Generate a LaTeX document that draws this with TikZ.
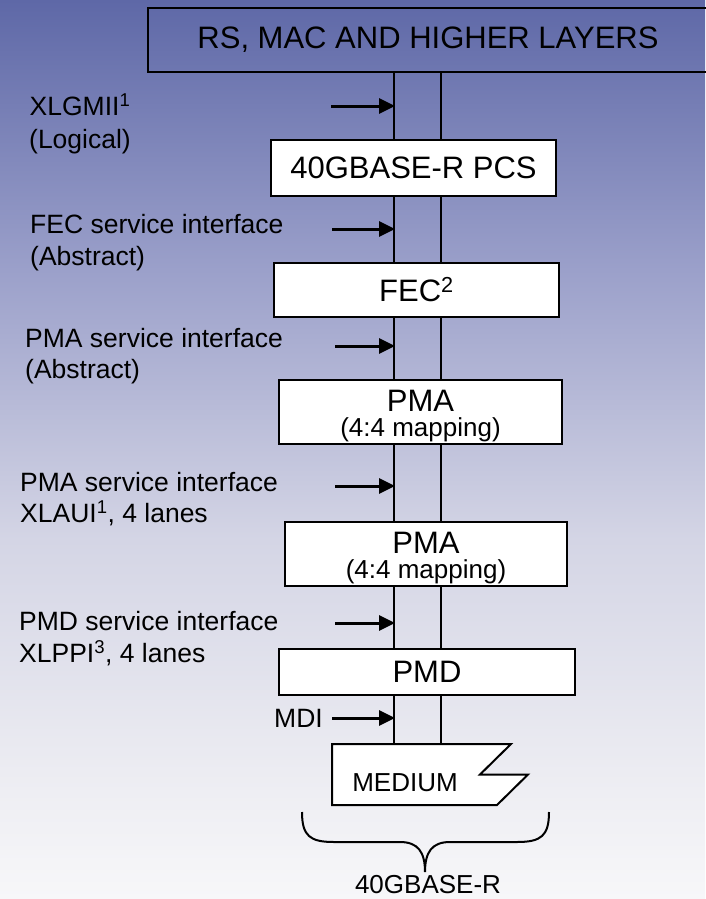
\documentclass[tikz,border=0pt]{standalone}
\usepackage{fontspec}
\setmainfont{Liberation Sans}
\usetikzlibrary{arrows.meta}
\definecolor{bgtop}{RGB}{94,104,167}
\definecolor{bgmid}{RGB}{155,160,202}
\definecolor{bglow}{RGB}{212,213,229}
\definecolor{bgfoot}{RGB}{238,238,243}
\definecolor{bgbot}{RGB}{247,247,249}
\pgfdeclareverticalshading{bgshade}{100bp}{color(0bp)=(bgbot); color(25bp)=(bgbot); color(31bp)=(bgfoot); color(45bp)=(bglow); color(60bp)=(bgmid); color(75bp)=(bgtop); color(100bp)=(bgtop)}
\tikzset{
  layerbox/.style={draw=black, fill=white, line width=2pt, inner sep=0pt, align=center},
  bigtext/.style={font=\fontsize{31}{31}\selectfont},
  maptext/.style={inner sep=0pt, font=\fontsize{26}{26}\selectfont},
  lbl/.style={inner sep=0pt, align=left, anchor=west, font=\fontsize{26.5}{31.5}\selectfont},
  iface/.style={line width=3pt, -{Triangle[length=16pt,width=15pt]}},
  wire/.style={line width=2pt},
}
\begin{document}
\begin{tikzpicture}[x=1pt,y=-1pt]
\useasboundingbox (0,0) rectangle (705,899);
\shade[shading=bgshade] (0,0) rectangle (705,899);
% vertical pair of lines
\coordinate (la) at (394,72);
\coordinate (lb) at (441,72);
\coordinate (ma) at (394,744);
\coordinate (mb) at (441,744);
\draw[wire] (la) -- (ma);
\draw[wire] (lb) -- (mb);
% boxes
\node[draw=black, line width=2pt, inner sep=0pt, minimum width=560pt, minimum height=64pt, bigtext] (top) at (428,40) {RS, MAC AND HIGHER LAYERS};
\node[layerbox, minimum width=285pt, minimum height=56pt, bigtext] (pcs) at (413.5,168) {40GBASE-R PCS};
\node[layerbox, minimum width=285pt, minimum height=54pt, bigtext] (fec) at (416.5,290) {FEC\textsuperscript{2}};
\node[layerbox, minimum width=283pt, minimum height=64pt] (pmaa) at (420.5,412) {};
\node[bigtext, inner sep=0pt] (pmaat) at (420.5,401) {PMA};
\node[maptext] (pmaam) at (420.5,430) {(4:4 mapping)};
\node[layerbox, minimum width=282pt, minimum height=64pt] (pmab) at (426,554) {};
\node[bigtext, inner sep=0pt] (pmabt) at (426,543) {PMA};
\node[maptext] (pmabm) at (426,572) {(4:4 mapping)};
\node[layerbox, minimum width=296pt, minimum height=46pt, bigtext] (pmd) at (427,672) {PMD};
% medium
\draw[line width=2pt, fill=white] (332,744) -- (511,744) -- (480,774.5) -- (528,774.5) -- (497,805) -- (332,805) -- cycle;
\node[inner sep=0pt, font=\fontsize{26}{26}\selectfont] (medium) at (405,783) {MEDIUM};
% brace
\draw[line width=2pt] (302,812) .. controls (302,836) and (310,842) .. (334,842) -- (400,842) .. controls (418,842) and (425,852) .. (425,872)
  .. controls (425,852) and (432,842) .. (450,842) -- (517,842) .. controls (541,842) and (549,836) .. (549,812);
\node[inner sep=0pt, font=\fontsize{26}{26}\selectfont] (base) at (428,885) {40GBASE-R};
% labels
\node[inner sep=0pt, align=center, font=\fontsize{26.5}{33}\selectfont] (xlgmii) at (80,124) {XLGMII\textsuperscript{1}\\(Logical)};
\node[lbl] (fecsi) at (30,242.5) {FEC service interface\\(Abstract)};
\node[lbl] (pmasi) at (25,356) {PMA service interface\\(Abstract)};
\node[lbl] (pmasi2) at (20,499) {PMA service interface\\XLAUI\textsuperscript{1}, 4 lanes};
\node[lbl] (pmdsi) at (19,638.5) {PMD service interface\\XLPPI\textsuperscript{3}, 4 lanes};
\node[lbl, font=\fontsize{26.5}{26.5}\selectfont] (mdi) at (274,718) {MDI};
% arrows
\coordinate (s1) at (331,106); \coordinate (e1) at (395,106);
\coordinate (s2) at (332,229); \coordinate (e2) at (395,229);
\coordinate (s3) at (335,346); \coordinate (e3) at (395,346);
\coordinate (s4) at (335,486); \coordinate (e4) at (395,486);
\coordinate (s5) at (335,623); \coordinate (e5) at (395,623);
\coordinate (s6) at (332,718); \coordinate (e6) at (395,718);
\foreach \i in {1,...,6} {\draw[iface] (s\i) -- (e\i);}
\end{tikzpicture}
\end{document}
